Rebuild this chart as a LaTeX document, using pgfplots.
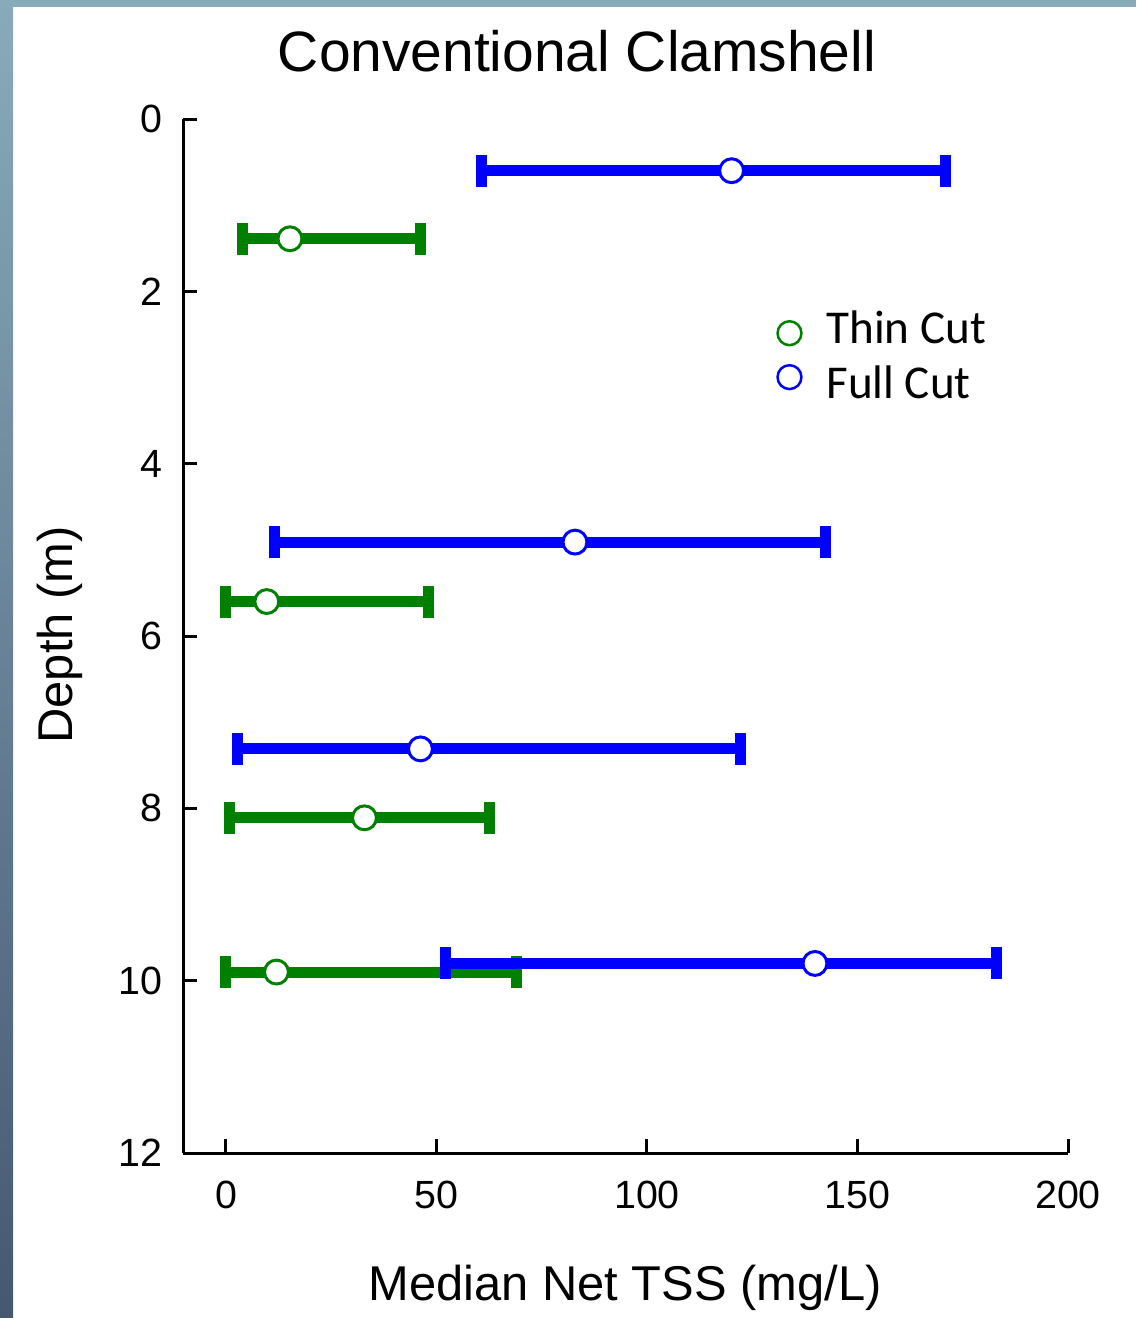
\documentclass[border=0pt]{standalone}
\usepackage{fontspec}
\setmainfont{Liberation Sans}
\newfontfamily\carlito{Carlito}
\usepackage{pgfplots}
\usepackage{pgfplotstable}
\pgfplotsset{compat=1.18}
\definecolor{tgreen}{RGB}{0,128,0}
\definecolor{fblue}{RGB}{0,0,255}
\definecolor{bordertop}{HTML}{88ABBB}
\definecolor{borderbot}{HTML}{465870}

\pgfplotstableread{
x y em ep
15.2 1.39 11.2 31.1
9.7 5.60 9.7 38.5
32.9 8.11 31.95 29.6
12.0 9.90 12.0 56.9
}\thin
\pgfplotstableread{
x y em ep
120.1 0.60 59.3 50.9
82.9 4.91 71.4 59.4
46.2 7.31 43.5 76.1
139.9 9.80 87.8 43.2
}\full

\begin{document}
\begin{tikzpicture}
\fill[white] (0,0) rectangle (11.36,13.18);
\fill[bordertop] (0,13.11) rectangle (11.36,13.18);
\shade[top color=bordertop, bottom color=borderbot] (0,0) rectangle (0.13,13.18);
\begin{axis}[
  at={(1.83cm,1.65cm)}, anchor=south west,
  scale only axis, width=8.85cm, height=10.34cm,
  xmin=-10.2, xmax=200, ymin=0, ymax=12, y dir=reverse,
  axis x line*=bottom, axis y line*=left,
  axis line style={line width=0.03cm, black},
  every tick/.style={line width=0.03cm, black},
  major tick length=0.14cm,
  tick align=inside,
  xtick={0,50,100,150,200},
  ytick={0,2,4,6,8,10,12},
  /pgf/number format/assume math mode=true,
  tick label style={font=\fontsize{11.2}{13}\selectfont},
  yticklabel style={anchor=east, inner sep=0pt, xshift=-0.2cm},
  xticklabel style={anchor=north, inner sep=0pt, yshift=-0.27cm},
  clip=false,
  legend style={draw=none, fill=none, font=\carlito\fontsize{13.4}{16}\selectfont,
    at={(axis description cs:0.671,0.8148)}, anchor=north west,
    row sep=0.16cm, column sep=0.25cm, inner sep=0pt,
    nodes={inner sep=0pt}},
  legend cell align=left,
  legend image code/.code={\draw[#1, mark size=3.4pt, mark options={line width=0.025cm, fill=white}] plot coordinates {(0cm,0cm)};},
]
\addplot[only marks, mark=*, mark size=3.4pt, tgreen,
  mark options={fill=white, draw=tgreen, line width=0.03cm},
  legend image post style={yshift=-0.03cm},
  error bars/.cd, x dir=both, x explicit,
  error bar style={line width=0.11cm, tgreen},
  error mark=-, error mark options={rotate=90, line width=0.11cm, mark size=0.16cm, tgreen}]
  table[x=x, y=y, x error plus=ep, x error minus=em] {\thin};
\addlegendentry{Thin Cut}
\addplot[only marks, mark=*, mark size=3.4pt, fblue,
  mark options={fill=white, draw=fblue, line width=0.03cm},
  legend image post style={yshift=0.08cm},
  error bars/.cd, x dir=both, x explicit,
  error bar style={line width=0.11cm, fblue},
  error mark=-, error mark options={rotate=90, line width=0.11cm, mark size=0.16cm, fblue}]
  table[x=x, y=y, x error plus=ep, x error minus=em] {\full};
\addlegendentry{Full Cut}
\end{axis}
\node[anchor=base, inner sep=0pt, font=\fontsize{16.2}{19}\selectfont] at (5.77,12.46) {Conventional Clamshell};
\node[anchor=base, inner sep=0pt, font=\fontsize{13.9}{16}\selectfont] at (6.25,0.18) {Median Net TSS (mg/L)};
\node[anchor=base, inner sep=0pt, rotate=90, font=\fontsize{13.9}{16}\selectfont] at (0.72,6.83) {Depth (m)};
\end{tikzpicture}
\end{document}
